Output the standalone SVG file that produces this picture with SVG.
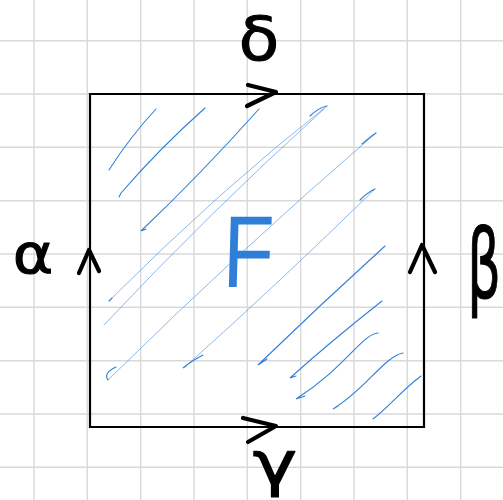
<svg xmlns="http://www.w3.org/2000/svg" width="503" height="500" viewBox="0 0 503 500">
<style>
.grid line{stroke:#d9d9d9;stroke-width:1.4}
.edge{stroke:#000;stroke-width:2.2;fill:none;stroke-linecap:square}
.arr{stroke:#000;stroke-width:4.2;fill:none;stroke-linecap:round;stroke-linejoin:round}
.h{stroke:#2f7fd8;stroke-width:1.1;fill:none;stroke-linecap:round}
.hl{stroke:#2f7fd8;stroke-width:1;fill:none;stroke-linecap:round;opacity:0.55}
.lbl{font-family:"DejaVu Sans",sans-serif;fill:#000;stroke:#000;stroke-width:1.1;stroke-linejoin:round}
</style>
<rect width="503" height="500" fill="#fff"/>
<g class="grid" id="grid">
<line x1="34" y1="0" x2="34" y2="500"/><line x1="87.3" y1="0" x2="87.3" y2="500"/><line x1="140.7" y1="0" x2="140.7" y2="500"/><line x1="194" y1="0" x2="194" y2="500"/><line x1="247.3" y1="0" x2="247.3" y2="500"/><line x1="300.7" y1="0" x2="300.7" y2="500"/><line x1="354" y1="0" x2="354" y2="500"/><line x1="407.3" y1="0" x2="407.3" y2="500"/><line x1="460.7" y1="0" x2="460.7" y2="500"/>
<line x1="0" y1="40.7" x2="503" y2="40.7"/><line x1="0" y1="94" x2="503" y2="94"/><line x1="0" y1="147.3" x2="503" y2="147.3"/><line x1="0" y1="200.7" x2="503" y2="200.7"/><line x1="0" y1="254" x2="503" y2="254"/><line x1="0" y1="307.3" x2="503" y2="307.3"/><line x1="0" y1="360.7" x2="503" y2="360.7"/><line x1="0" y1="414" x2="503" y2="414"/><line x1="0" y1="467.3" x2="503" y2="467.3"/>
</g>
<g id="hatching">
<path class="h" d="M156,109 Q130,137 109,170"/>
<path class="h" d="M205,108 Q160,148 121,193 L119,197"/>
<path class="h" d="M259,109 Q200,175 141,231 L146,229"/>
<path class="h" d="M327,106 Q318,108 310,116"/>
<path class="hl" d="M327,106 Q220,190 112,298"/>
<path class="h" d="M112,298 L109,301"/>
<path class="hl" d="M324,109 Q210,212 104,325"/>
<path class="hl" d="M376,133 Q240,250 108,380"/>
<path class="h" d="M376,133 Q370,137 362,144 M108,380 Q103,373 116,367"/>
<path class="hl" d="M375,189 Q280,282 186,366"/>
<path class="h" d="M375,189 Q368,192 360,200 M186,366 L183,368 Q190,362 203,355"/>
<path class="h" d="M385,246 Q320,305 258,365 L267,359"/>
<path class="h" d="M382,301 Q330,342 290,378 L296,376"/>
<path class="h" d="M378,333 C362,334 345,368 296,399 L305,396"/>
<path class="h" d="M403,353 C385,356 365,390 333,409 L338,406"/>
<path class="h" d="M421,376 C402,390 388,408 373,419"/>
</g>
<g id="connectors">
<path class="edge" d="M90,94 H424 V427 H90 Z"/>
<path class="arr" d="M248,85 L276,92 L247,106"/>
<path class="arr" d="M243,418 L276,426 L248,442"/>
<path class="arr" d="M79,273 L89,250 L99,271"/>
<path class="arr" d="M410,272 L422,245 L435,272"/>
</g>
<g id="F"><text transform="translate(222,287) scale(0.82,1) skewX(-2)" x="0" y="0" font-family="'Liberation Sans',sans-serif" font-size="102" fill="#2f7fd8">F</text></g>
<g id="delta"><text class="lbl" transform="translate(259,60) scale(1.1,1)" x="0" y="0" text-anchor="middle" font-size="60">δ</text></g>
<g id="alpha"><text class="lbl" transform="translate(33,273) scale(1.1,1)" x="0" y="0" text-anchor="middle" font-size="56">α</text></g>
<g id="beta"><text class="lbl" transform="translate(484,298) scale(0.55,1)" x="0" y="0" text-anchor="middle" font-size="96">β</text></g>
<g id="gamma"><text class="lbl" transform="translate(275,484) scale(1.25,1)" x="0" y="0" text-anchor="middle" font-size="60">γ</text></g>
</svg>
